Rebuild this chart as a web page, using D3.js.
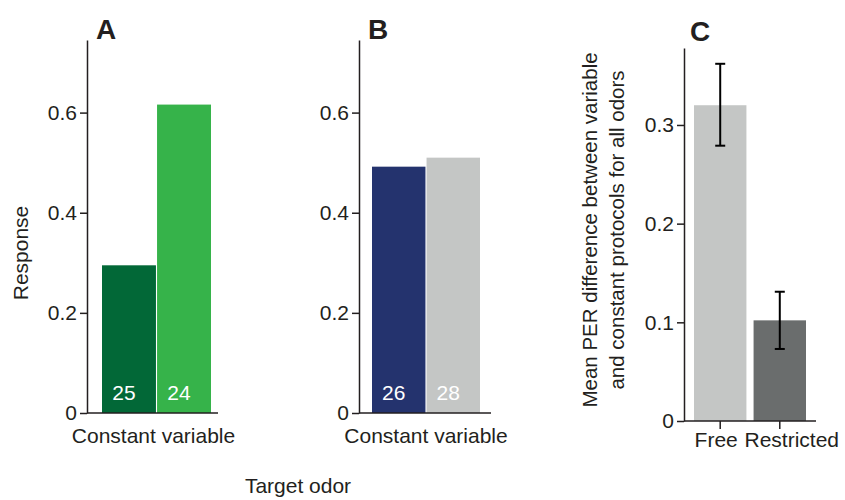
<!DOCTYPE html>
<html lang="en">
<head>
    <meta charset="utf-8">
    <style>
        body { margin: 0; background: #fff; }
        svg { display: block; font-family: "Liberation Sans", Arial, sans-serif; }
        .axis path, .axis line { stroke: #231f20; stroke-width: 1.5; }
        .axis text { fill: #231f20; font-size: 21px; font-family: "Liberation Sans", Arial, sans-serif; }
    </style>
</head>
<body>
<svg id="mainSVG" width="845" height="500"></svg>
<script src="https://cdn.jsdelivr.net/npm/d3@7"></script>
<script>
    // ---- data ----
    var groups = ["Constant", "Variable"];
    var responseA = [0.295, 0.616];
    var responseB = [0.492, 0.510];
    var countsA = [25, 24];
    var countsB = [26, 28];
    var colorsA = ["#026837", "#36b34a"];
    var colorsB = ["#24336e", "#c4c6c5"];
    var tickValsAB = [0, 0.2, 0.4, 0.6];

    var protocols = ["Free", "Restricted"];
    var meanDiff = [0.320, 0.102];
    var errLow = [0.279, 0.073];
    var errHigh = [0.362, 0.131];
    var colorsC = ["#c4c6c5", "#6a6d6d"];
    var tickValsC = [0, 0.1, 0.2, 0.3];

    var svg = d3.select("#mainSVG");
    var ink = "#231f20";

    function fmt(d) { return d === 0 ? "0" : d3.format(".1f")(d); }

    // panel with two bars touching, used for A and B
    function drawResponsePanel(axisX, bandLeft, bandRight, baseRight, letter, values, counts, colors) {
        var y = d3.scaleLinear().domain([0, 0.745]).range([413, 40]);
        var x = d3.scaleBand().domain(groups).range([bandLeft, bandRight]).paddingInner(0.02);
        var g = svg.append("g");

        g.selectAll("rect.bar")
            .data(values)
            .enter().append("rect")
            .attr("class", "bar")
            .attr("x", function (d, i) { return x(groups[i]); })
            .attr("width", x.bandwidth())
            .attr("y", function (d) { return y(d); })
            .attr("height", function (d) { return y(0) - y(d); })
            .attr("fill", function (d, i) { return colors[i]; });

        g.selectAll("text.count")
            .data(counts)
            .enter().append("text")
            .attr("class", "count")
            .attr("x", function (d, i) { return x(groups[i]) + x.bandwidth() / 2 - 5; })
            .attr("y", y(0) - 13)
            .attr("text-anchor", "middle")
            .attr("fill", "#fff")
            .style("font-size", "21px")
            .text(function (d) { return d; });

        g.append("g")
            .attr("class", "axis")
            .attr("transform", "translate(" + axisX + ",0)")
            .call(d3.axisLeft(y).tickValues(tickValsAB).tickSize(7).tickPadding(3).tickSizeOuter(0).tickFormat(fmt));

        g.append("line")
            .attr("x1", axisX).attr("x2", baseRight)
            .attr("y1", y(0)).attr("y2", y(0))
            .attr("stroke", ink).attr("stroke-width", 1.5);

        g.append("text")
            .attr("x", (axisX + baseRight) / 2 + 1)
            .attr("y", 443)
            .attr("text-anchor", "middle")
            .attr("fill", ink)
            .style("font-size", "21px")
            .text("Constant variable");

        g.append("text")
            .attr("x", axisX + 9)
            .attr("y", 39)
            .attr("fill", ink)
            .style("font-size", "28px")
            .style("font-weight", "bold")
            .text(letter);
    }

    drawResponsePanel(87, 102, 211, 218, "A", responseA, countsA, colorsA);
    drawResponsePanel(359, 372, 480, 491, "B", responseB, countsB, colorsB);

    svg.append("text")
        .attr("transform", "translate(28,253) rotate(-90)")
        .attr("text-anchor", "middle")
        .attr("fill", ink)
        .style("font-size", "21px")
        .text("Response");

    svg.append("text")
        .attr("x", 298)
        .attr("y", 493)
        .attr("text-anchor", "middle")
        .attr("fill", ink)
        .style("font-size", "21px")
        .text("Target odor");

    // ---- panel C ----
    var yC = d3.scaleLinear().domain([0, 0.378]).range([421, 48]);
    var xC = d3.scaleBand().domain(protocols).range([694, 806]).paddingInner(0.12);
    var gC = svg.append("g");

    gC.selectAll("rect.bar")
        .data(meanDiff)
        .enter().append("rect")
        .attr("class", "bar")
        .attr("x", function (d, i) { return xC(protocols[i]); })
        .attr("width", xC.bandwidth())
        .attr("y", function (d) { return yC(d); })
        .attr("height", function (d) { return yC(0) - yC(d); })
        .attr("fill", function (d, i) { return colorsC[i]; });

    var err = gC.selectAll("g.err")
        .data(protocols)
        .enter().append("g")
        .attr("class", "err")
        .attr("stroke", "#000")
        .attr("stroke-width", 2);
    err.append("line")
        .attr("x1", function (d) { return xC(d) + xC.bandwidth() / 2; })
        .attr("x2", function (d) { return xC(d) + xC.bandwidth() / 2; })
        .attr("y1", function (d, i) { return yC(errLow[i]); })
        .attr("y2", function (d, i) { return yC(errHigh[i]); });
    [errLow, errHigh].forEach(function (arr) {
        err.append("line")
            .attr("x1", function (d) { return xC(d) + xC.bandwidth() / 2 - 5; })
            .attr("x2", function (d) { return xC(d) + xC.bandwidth() / 2 + 5; })
            .attr("y1", function (d, i) { return yC(arr[i]); })
            .attr("y2", function (d, i) { return yC(arr[i]); });
    });

    gC.append("g")
        .attr("class", "axis")
        .attr("transform", "translate(684,0)")
        .call(d3.axisLeft(yC).tickValues(tickValsC).tickSize(7).tickPadding(3).tickSizeOuter(0).tickFormat(fmt));

    var xAxisC = gC.append("g")
        .attr("class", "axis")
        .attr("transform", "translate(0," + yC(0) + ")")
        .call(d3.axisBottom(xC).tickSize(8).tickPadding(3).tickSizeOuter(0));
    xAxisC.select(".domain").attr("d", "M684,0H816");
    xAxisC.selectAll(".tick text")
        .attr("dx", function (d) { return d === "Restricted" ? 12 : -4; });

    gC.append("text")
        .attr("x", 690)
        .attr("y", 41)
        .attr("fill", ink)
        .style("font-size", "28px")
        .style("font-weight", "bold")
        .text("C");

    var yLabel = gC.append("text")
        .attr("transform", "translate(597,230) rotate(-90)")
        .attr("text-anchor", "middle")
        .attr("fill", ink)
        .style("font-size", "20.5px");
    yLabel.append("tspan").attr("x", 0).attr("dy", 0).text("Mean PER difference between variable");
    yLabel.append("tspan").attr("x", 0).attr("dy", 27).text("and constant protocols for all odors");
</script>
</body>
</html>
